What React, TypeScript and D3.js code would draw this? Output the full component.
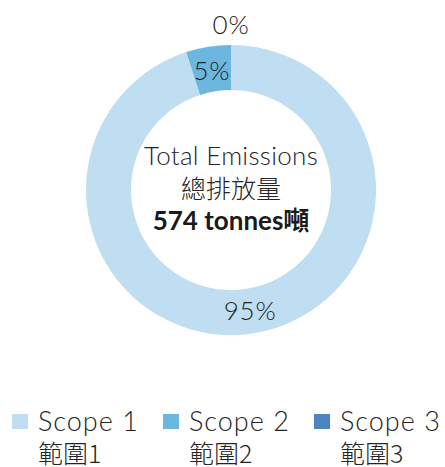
import React from "react";
import * as d3 from "d3";

const categories = ["Scope 1", "Scope 2", "Scope 3"];
const categoriesZh = ["範圍1", "範圍2", "範圍3"];
const values = [95, 5, 0];
const labels = ["95%", "5%", "0%"];
const colors = ["#bfdef2", "#6bb7de", "#4b86bf"];
const centerLines = ["Total Emissions", "總排放量"];
const totalLabel = "574 tonnes噸";

const W = 445;
const H = 467;
const FONT = "Lato, 'Noto Sans CJK TC', sans-serif";
const CJK = "'Noto Sans CJK TC', sans-serif";
const TEXT = "#262324";

export default function App() {
  const cx = 231;
  const cy = 190;
  const outerR = 145;
  const innerR = 100;
  const pie = d3.pie<number>().sort(null).value((d) => d)(values);
  const arc = d3.arc<d3.PieArcDatum<number>>().innerRadius(innerR).outerRadius(outerR);
  const labelArc = d3.arc<d3.PieArcDatum<number>>().innerRadius(122).outerRadius(122);
  const outArc = d3.arc<d3.PieArcDatum<number>>().innerRadius(166).outerRadius(166);
  const legendX = d3.scalePoint<string>().domain(categories).range([12, 314]);

  return (
    <svg
      width={W}
      height={H}
      style={{ position: "absolute", left: 0, top: 0 }}
      fontFamily={FONT}
    >
      <g transform={`translate(${cx},${cy})`}>
        {pie.map((d, i) => (
          <path key={i} d={arc(d) || ""} fill={colors[i]} />
        ))}
        {pie.map((d, i) => {
          const [x, y] = d.value > 0 ? labelArc.centroid(d) : outArc.centroid(d);
          return (
            <text
              key={"l" + i}
              x={x}
              y={y}
              textAnchor="middle"
              dominantBaseline="central"
              fontSize={26}
              letterSpacing={0.8}
              fontWeight={300}
              fill={TEXT}
            >
              {labels[i]}
            </text>
          );
        })}
        <text y={-25} textAnchor="middle" fontSize={26} letterSpacing={0.3} fontWeight={300} fill={TEXT}>
          {centerLines[0]}
        </text>
        <text y={8} textAnchor="middle" fontSize={25} fontWeight={300} fill={TEXT} fontFamily={CJK}>
          {centerLines[1]}
        </text>
        <text y={40} textAnchor="middle" fontSize={26} fontWeight={700} fill="#1a1a1a">
          {totalLabel}
        </text>
      </g>
      {categories.map((c, i) => {
        const x = legendX(c) as number;
        return (
          <g key={c} transform={`translate(${x},0)`}>
            <rect x={0} y={414} width={16} height={15} fill={colors[i]} />
            <text x={26} y={431} fontSize={27} letterSpacing={1} fontWeight={300} fill={TEXT}>
              {c}
            </text>
            <text x={26} y={463} fontSize={25} fontWeight={300} fill={TEXT} fontFamily={CJK}>
              {categoriesZh[i]}
            </text>
          </g>
        );
      })}
    </svg>
  );
}
